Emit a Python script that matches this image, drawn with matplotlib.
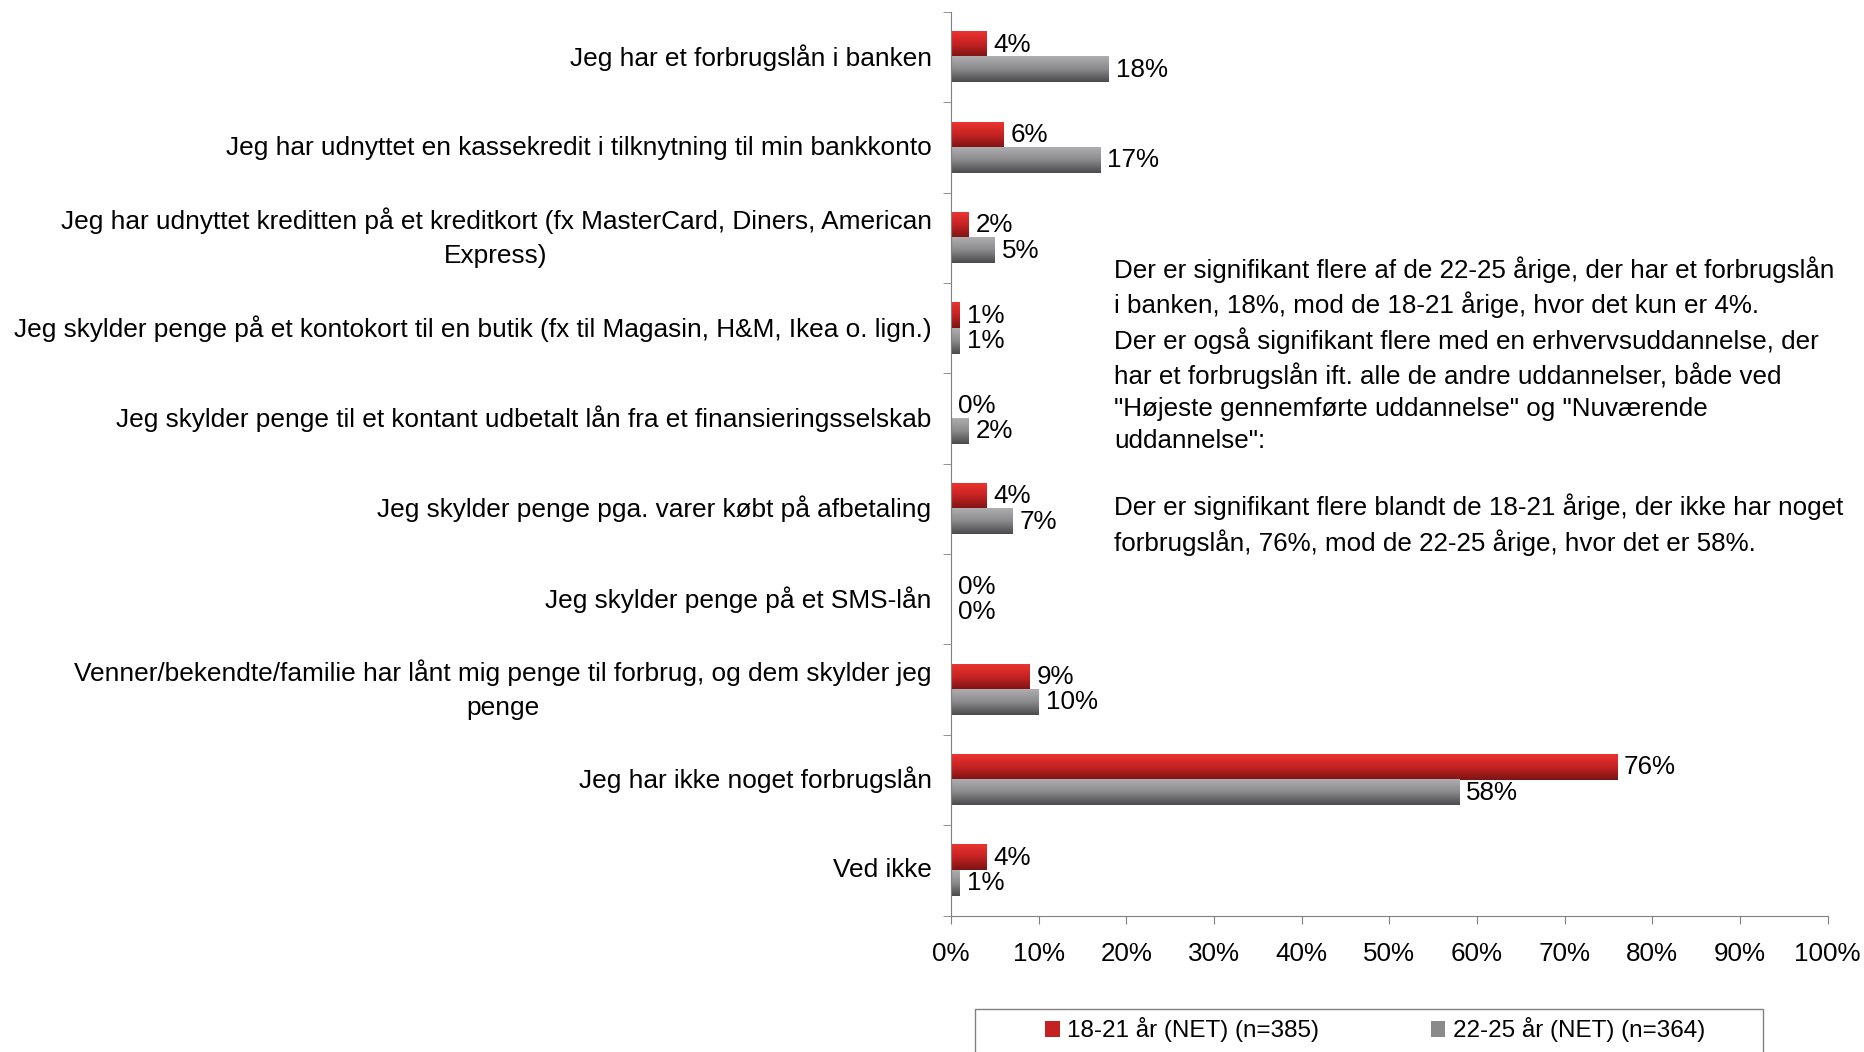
import numpy as np
import matplotlib.pyplot as plt
from matplotlib.colors import LinearSegmentedColormap
from matplotlib.patches import Patch, Rectangle

plt.rcParams['font.family'] = ['Liberation Sans', 'DejaVu Sans']

categories = [
    "Jeg har et forbrugslån i banken",
    "Jeg har udnyttet en kassekredit i tilknytning til min bankkonto",
    "Jeg har udnyttet kreditten på et kreditkort (fx MasterCard, Diners, American\nExpress)",
    "Jeg skylder penge på et kontokort til en butik (fx til Magasin, H&M, Ikea o. lign.)",
    "Jeg skylder penge til et kontant udbetalt lån fra et finansieringsselskab",
    "Jeg skylder penge pga. varer købt på afbetaling",
    "Jeg skylder penge på et SMS-lån",
    "Venner/bekendte/familie har lånt mig penge til forbrug, og dem skylder jeg\npenge",
    "Jeg har ikke noget forbrugslån",
    "Ved ikke",
]
young = [4, 6, 2, 1, 0, 4, 0, 9, 76, 4]
older = [18, 17, 5, 1, 2, 7, 0, 10, 58, 1]
series_names = ["18-21 år (NET) (n=385)", "22-25 år (NET) (n=364)"]
x_ticks = [0, 10, 20, 30, 40, 50, 60, 70, 80, 90, 100]

note = ("Der er signifikant flere af de 22-25 årige, der har et forbrugslån\n"
        "i banken, 18%, mod de 18-21 årige, hvor det kun er 4%.\n"
        "Der er også signifikant flere med en erhvervsuddannelse, der\n"
        "har et forbrugslån ift. alle de andre uddannelser, både ved\n"
        "\"Højeste gennemførte uddannelse\" og \"Nuværende\n"
        "uddannelse\":\n"
        "\n"
        "Der er signifikant flere blandt de 18-21 årige, der ikke har noget\n"
        "forbrugslån, 76%, mod de 22-25 årige, hvor det er 58%.")

red_cmap = LinearSegmentedColormap.from_list("red", ["#ec3430", "#c42222", "#7c1414"])
gray_cmap = LinearSegmentedColormap.from_list("gray", ["#aeaeb0", "#8a8a8c", "#4a4a4c"])

FS = 18.7


def gradient_bars(ax, bars, cmap):
    grad = np.linspace(0, 1, 64).reshape(-1, 1)
    for b in bars:
        x0, y0 = b.get_x(), b.get_y()
        w, h = b.get_width(), b.get_height()
        b.set_facecolor('none')
        b.set_edgecolor('none')
        if w <= 0:
            continue
        ax.imshow(grad, cmap=cmap, extent=[x0, x0 + w, y0 + h, y0],
                  origin='upper', aspect='auto', zorder=2)


def main():
    fig = plt.figure(figsize=(18.64, 10.52), dpi=100)
    ax = fig.add_axes([951 / 1864, 1 - 915.5 / 1052, 876.5 / 1864, 903.5 / 1052])

    y = np.arange(len(categories))
    h = 0.28
    red_bars = ax.barh(y - h / 2, young, height=h)
    gray_bars = ax.barh(y + h / 2, older, height=h)
    gradient_bars(ax, red_bars, red_cmap)
    gradient_bars(ax, gray_bars, gray_cmap)

    for bars, vals in ((red_bars, young), (gray_bars, older)):
        for b, v in zip(bars, vals):
            ax.annotate(f"{v}%", (b.get_width(), b.get_y() + b.get_height() / 2),
                        xytext=(5, 0), textcoords='offset points',
                        va='center', ha='left', fontsize=FS)

    ax.set_xlim(0, 100)
    ax.set_ylim(len(categories) - 0.5, -0.5)
    ax.set_xticks(x_ticks)
    ax.set_xticklabels([f"{t}%" for t in x_ticks], fontsize=FS)
    ax.set_yticks(y)
    ax.set_yticklabels(categories, fontsize=18.9, multialignment='center',
                       linespacing=1.5, va='center')
    ax.set_yticks(np.arange(-0.5, len(categories), 1), minor=True)
    ax.tick_params(axis='y', which='major', length=0, pad=14)
    ax.tick_params(axis='y', which='minor', length=6, color='#808080')
    ax.tick_params(axis='x', length=6, color='#808080', pad=13)

    for s in ('top', 'right'):
        ax.spines[s].set_visible(False)
    for s in ('left', 'bottom'):
        ax.spines[s].set_color('#808080')

    fig.text(1114 / 1864, 1 - 256 / 1052, note, fontsize=FS, va='top',
             ha='left', linespacing=1.41)

    # legend box
    fig.patches.append(Rectangle((975 / 1864, -0.05), 788 / 1864, 0.05 + 1 - 1009 / 1052,
                                 transform=fig.transFigure, facecolor='white',
                                 edgecolor='#808080', linewidth=1))
    handles = [Patch(facecolor='#c42222'), Patch(facecolor='#8a8a8c')]
    fig.legend(handles, series_names, loc='center', ncol=2, frameon=False,
               bbox_to_anchor=(1375 / 1864, 1 - 1030 / 1052), fontsize=17.5,
               handlelength=0.6, handleheight=0.6, handletextpad=0.3,
               columnspacing=4.6)

    fig.savefig("out.png", dpi=100)


if __name__ == "__main__":
    main()
